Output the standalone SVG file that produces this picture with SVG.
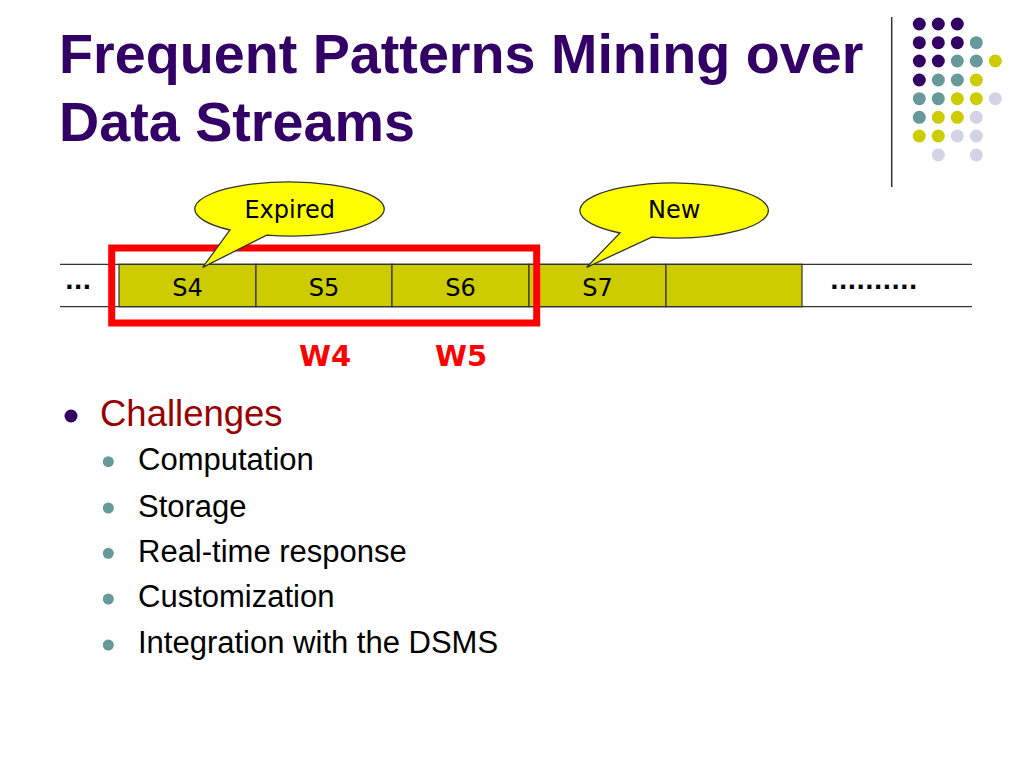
<svg xmlns="http://www.w3.org/2000/svg" width="1024" height="768" viewBox="0 0 1024 768">
<style>
.title{font-family:"Liberation Sans",Arial,sans-serif;font-weight:bold;font-size:55.7px;fill:#330066}
.lbl{font-family:"DejaVu Sans",Verdana,sans-serif;font-size:24px;fill:#000;text-anchor:middle}
.w{font-family:"DejaVu Sans",Verdana,sans-serif;font-size:29px;font-weight:bold;fill:#FF0000;text-anchor:middle}
.dots{font-family:"DejaVu Sans",Verdana,sans-serif;font-size:23px;font-weight:bold;fill:#000}
.b1{font-family:"Liberation Sans",Arial,sans-serif;font-size:36.5px;fill:#990000}
.b2{font-family:"Liberation Sans",Arial,sans-serif;font-size:31px;fill:#000}
.cell{fill:#CCCC00;stroke:#333;stroke-width:1.2}
.line{stroke:#333;stroke-width:1.3}
.callout{fill:#FFFF00;stroke:#333;stroke-width:1.3}
.p{fill:#330066}.t{fill:#669999}.y{fill:#CCCC00}.l{fill:#D3D3E6}
.sb{fill:#669999}
</style>
<rect width="1024" height="768" fill="#fff"/>
<g id="title">
<text class="title" x="59" y="73">Frequent Patterns Mining over</text>
<text class="title" x="59" y="141">Data Streams</text>
</g>
<g id="decoration">
<line x1="891.7" y1="17" x2="891.7" y2="187" stroke="#333" stroke-width="1.5"/>
<g>
<circle class="p" cx="919.3" cy="24" r="6.5"/><circle class="p" cx="938.3" cy="24" r="6.5"/><circle class="p" cx="957.3" cy="24" r="6.5"/>
<circle class="p" cx="919.3" cy="42.7" r="6.5"/><circle class="p" cx="938.3" cy="42.7" r="6.5"/><circle class="p" cx="957.3" cy="42.7" r="6.5"/><circle class="t" cx="976.3" cy="42.7" r="6.5"/>
<circle class="p" cx="919.3" cy="61" r="6.5"/><circle class="p" cx="938.3" cy="61" r="6.5"/><circle class="t" cx="957.3" cy="61" r="6.5"/><circle class="t" cx="976.3" cy="61" r="6.5"/><circle class="y" cx="995.3" cy="61" r="6.5"/>
<circle class="p" cx="919.3" cy="80" r="6.5"/><circle class="t" cx="938.3" cy="80" r="6.5"/><circle class="t" cx="957.3" cy="80" r="6.5"/><circle class="y" cx="976.3" cy="80" r="6.5"/>
<circle class="t" cx="919.3" cy="98.7" r="6.5"/><circle class="t" cx="938.3" cy="98.7" r="6.5"/><circle class="y" cx="957.3" cy="98.7" r="6.5"/><circle class="y" cx="976.3" cy="98.7" r="6.5"/><circle class="l" cx="995.3" cy="98.7" r="6.5"/>
<circle class="t" cx="919.3" cy="117.3" r="6.5"/><circle class="y" cx="938.3" cy="117.3" r="6.5"/><circle class="y" cx="957.3" cy="117.3" r="6.5"/><circle class="l" cx="976.3" cy="117.3" r="6.5"/>
<circle class="y" cx="919.3" cy="136" r="6.5"/><circle class="y" cx="938.3" cy="136" r="6.5"/><circle class="l" cx="957.3" cy="136" r="6.5"/><circle class="l" cx="976.3" cy="136" r="6.5"/>
<circle class="l" cx="938.3" cy="155" r="6.5"/><circle class="l" cx="976.3" cy="155" r="6.5"/>
</g>
</g>
<g id="stream">
<rect class="cell" x="119" y="264.3" width="137" height="42.4"/>
<rect class="cell" x="256" y="264.3" width="136" height="42.4"/>
<rect class="cell" x="392" y="264.3" width="137" height="42.4"/>
<rect class="cell" x="529" y="264.3" width="137" height="42.4"/>
<rect class="cell" x="666" y="264.3" width="136" height="42.4"/>
<line class="line" x1="60" y1="264.3" x2="972" y2="264.3"/>
<line class="line" x1="60" y1="306.7" x2="972" y2="306.7"/>
<text class="lbl" x="187.5" y="295.5">S4</text>
<text class="lbl" x="324" y="295.5">S5</text>
<text class="lbl" x="460.5" y="295.5">S6</text>
<text class="lbl" x="597.5" y="295.5">S7</text>
<text class="dots" x="65" y="289">...</text>
<text class="dots" x="830" y="289">..........</text>
</g>
<g id="window">
<rect x="111.7" y="248" width="425" height="75" fill="none" stroke="#FF0000" stroke-width="7"/>
<text class="w" x="325" y="366">W4</text>
<text class="w" x="461" y="366">W5</text>
</g>
<g id="callout-expired">
<path class="callout" d="M 230 230 A 94.7 27 0 1 1 266.7 235.2 L 202.7 267.3 Z"/>
<text class="lbl" x="289.7" y="218">Expired</text>
</g>
<g id="callout-new">
<path class="callout" d="M 620 233 A 94.2 27.5 0 1 1 651.7 237.2 L 586.7 267.3 Z"/>
<text class="lbl" x="674.2" y="218">New</text>
</g>
<g id="bullets">
<circle cx="71" cy="416" r="6.5" fill="#330066"/>
<text class="b1" x="100" y="425.5">Challenges</text>
<circle class="sb" cx="108.3" cy="461.7" r="5.5"/>
<text class="b2" x="138" y="470">Computation</text>
<circle class="sb" cx="108.3" cy="508" r="5.5"/>
<text class="b2" x="138" y="516.5">Storage</text>
<circle class="sb" cx="108.3" cy="553.3" r="5.5"/>
<text class="b2" x="138" y="561.7">Real-time response</text>
<circle class="sb" cx="108.3" cy="599" r="5.5"/>
<text class="b2" x="138" y="607.3">Customization</text>
<circle class="sb" cx="108.3" cy="645" r="5.5"/>
<text class="b2" x="138" y="653.3">Integration with the DSMS</text>
</g>
</svg>
